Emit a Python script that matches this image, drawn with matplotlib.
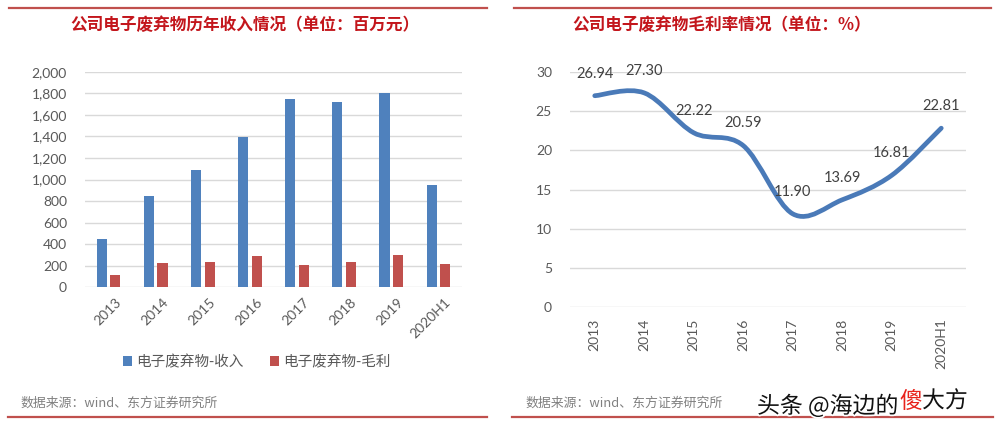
import matplotlib
matplotlib.use("Agg")
import matplotlib.pyplot as plt
from matplotlib.patches import Patch
from matplotlib.path import Path
from matplotlib.patches import PathPatch
from matplotlib.lines import Line2D
import matplotlib.patheffects as pe
import numpy as np

plt.rcParams['font.family'] = ['Lato', 'Noto Sans CJK SC', 'DejaVu Sans']

# ---------------- data ----------------
categories = ['2013', '2014', '2015', '2016', '2017', '2018', '2019', '2020H1']
revenue = [445, 844, 1091, 1397, 1746, 1719, 1805, 946]
gross_profit = [117, 226, 238, 287, 204, 232, 300, 216]
margin = [26.94, 27.30, 22.22, 20.59, 11.90, 13.69, 16.81, 22.81]
margin_labels = ['26.94', '27.30', '22.22', '20.59', '11.90', '13.69', '16.81', '22.81']
left_yticks = [0, 200, 400, 600, 800, 1000, 1200, 1400, 1600, 1800, 2000]
right_yticks = [0, 5, 10, 15, 20, 25, 30]
title_left = '公司电子废弃物历年收入情况（单位：百万元）'
title_right = '公司电子废弃物毛利率情况（单位：%）'
legend_labels = ['电子废弃物-收入', '电子废弃物-毛利']
source_text = '数据来源：wind、东方证券研究所'

W, H = 1001, 433
fig = plt.figure(figsize=(W / 100, H / 100), dpi=100)
fig.patch.set_facecolor('white')

BLUE = '#4f81bd'
RED = '#c0504d'
GRID = '#d9d9d9'
TICK = '#595959'
TITLE_RED = '#c3161c'
LINE_RED = '#c0504d'


def fx(px):
    return px / W


def fy(py):
    return 1 - py / H


# frame lines
for x0, x1 in [(9, 487), (514, 991)]:
    fig.add_artist(Line2D([fx(x0), fx(x1)], [fy(8), fy(8)], color=LINE_RED, lw=1.6))
for x0, x1 in [(8, 487), (512, 993)]:
    fig.add_artist(Line2D([fx(x0), fx(x1)], [fy(417), fy(417)], color=LINE_RED, lw=1.6))

# titles
fig.text(fx(245), fy(25), title_left, ha='center', va='center', fontsize=12,
         fontweight='bold', color=TITLE_RED, family=['Noto Sans CJK SC'])
fig.text(fx(722), fy(25), title_right, ha='center', va='center', fontsize=12,
         fontweight='bold', color=TITLE_RED, family=['Noto Sans CJK SC', 'DejaVu Sans'])

# sources
fig.text(fx(20), fy(403), source_text, ha='left', va='center', fontsize=9.3,
         color='#808080', family=['Noto Sans CJK SC', 'DejaVu Sans'])
fig.text(fx(525), fy(403), source_text, ha='left', va='center', fontsize=9.3,
         color='#808080', family=['Noto Sans CJK SC', 'DejaVu Sans'])

# ---------------- left: bar chart ----------------
axL = fig.add_axes([fx(85), fy(287.3), fx(462) - fx(85), fy(71.7) - fy(287.3)])
x = np.arange(len(categories))
bw = 0.215
axL.bar(x - 0.145, revenue, width=bw, color=BLUE, zorder=3)
axL.bar(x + 0.145, gross_profit, width=bw, color=RED, zorder=3)
axL.set_xlim(-0.5, len(categories) - 0.5)
axL.set_ylim(0, 2000)
axL.set_yticks(left_yticks)
axL.set_yticklabels([f'{v:,}' for v in left_yticks])
axL.yaxis.grid(True, color=GRID, lw=1.0, zorder=0)
axL.set_axisbelow(True)
for s in axL.spines.values():
    s.set_visible(False)
axL.tick_params(axis='y', length=0, pad=13, labelsize=10, labelcolor=TICK)
axL.tick_params(axis='x', length=0, pad=6, labelsize=10, labelcolor=TICK)
axL.set_xticks(x)
axL.set_xticklabels(categories, rotation=45, ha='right', va='top', rotation_mode='anchor')
for lbl in axL.get_xticklabels():
    lbl.set_transform(lbl.get_transform() + matplotlib.transforms.ScaledTranslation(6 / 100, 0, fig.dpi_scale_trans))

handles = [Patch(facecolor=BLUE, edgecolor='none'), Patch(facecolor=RED, edgecolor='none')]
fig.legend(handles, legend_labels, loc='center', bbox_to_anchor=(fx(257), fy(362)), ncol=2,
           frameon=False, handlelength=0.6, handleheight=0.6, handletextpad=0.3,
           columnspacing=1.8, prop={'family': ['Noto Sans CJK SC'], 'size': 10.5},
           labelcolor=TICK)

# ---------------- right: smooth line chart ----------------
axR = fig.add_axes([fx(570), fy(307.3), fx(966) - fx(570), fy(71.7) - fy(307.3)])
axR.set_xlim(-0.5, len(categories) - 0.5)
axR.set_ylim(0, 30)
axR.set_yticks(right_yticks)
axR.yaxis.grid(True, color=GRID, lw=1.0, zorder=0)
axR.set_axisbelow(True)
for s in axR.spines.values():
    s.set_visible(False)
axR.tick_params(axis='y', length=0, pad=13, labelsize=10, labelcolor=TICK)
axR.tick_params(axis='x', length=0, pad=8, labelsize=10, labelcolor=TICK)
axR.set_xticks(x)
axR.set_xticklabels(categories, rotation=90, ha='center', va='top')

# Catmull-Rom style smoothing (like Excel's smoothed line) built as Bezier path
pts = np.column_stack([x, margin]).astype(float)
verts = [tuple(pts[0])]
codes = [Path.MOVETO]
n = len(pts)
for i in range(n - 1):
    p0 = pts[i - 1] if i > 0 else pts[i]
    p1 = pts[i]
    p2 = pts[i + 1]
    p3 = pts[i + 2] if i + 2 < n else pts[i + 1]
    c1 = p1 + (p2 - p0) / 6.0
    c2 = p2 - (p3 - p1) / 6.0
    verts += [tuple(c1), tuple(c2), tuple(p2)]
    codes += [Path.CURVE4, Path.CURVE4, Path.CURVE4]
path = Path(verts, codes)
axR.add_patch(PathPatch(path, facecolor='none', edgecolor='#4a7ab8', lw=3.4,
                        capstyle='round', joinstyle='round', zorder=3))

for xi, yi, lab in zip(x, margin, margin_labels):
    axR.annotate(lab, (xi, yi), xytext=(0, 16), textcoords='offset points',
                 ha='center', va='center', fontsize=10.5, color='#404040', zorder=4)

# watermark (chained texts so they sit side by side)
wm_fx = [pe.withStroke(linewidth=2.5, foreground='white')]
t1 = fig.text(fx(757), fy(406), '头条 @海边的', ha='left', va='center', fontsize=16.5,
              color='#111111', family=['Noto Sans CJK SC'], path_effects=wm_fx)
t2 = fig.text(0, 0, '傻', ha='left', va='center', fontsize=16.5,
              color='#e8231c', family=['Noto Sans CJK SC'])
t3 = fig.text(0, 0, '大方', ha='left', va='center', fontsize=16.5,
              color='#111111', family=['Noto Sans CJK SC'], path_effects=wm_fx)
fig.canvas.draw()
r = fig.canvas.get_renderer()
bb1 = t1.get_window_extent(r)
t2.set_position((bb1.x1 / W + 1 / W, fy(401)))
fig.canvas.draw()
bb2 = t2.get_window_extent(r)
t3.set_position((bb2.x1 / W, fy(401)))

fig.savefig('out.png', dpi=100, facecolor='white')
